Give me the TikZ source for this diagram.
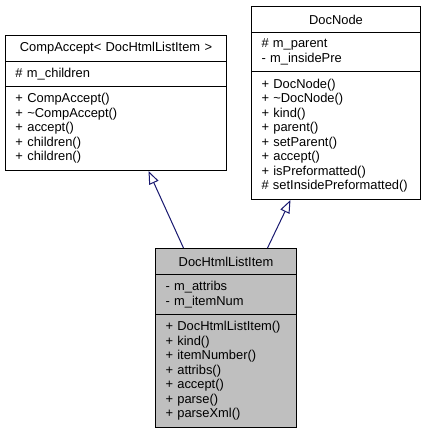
\documentclass[tikz,border=0pt]{standalone}
\usepackage{fontspec}
\setmainfont{Liberation Sans}
\usetikzlibrary{arrows.meta}
\definecolor{edgeblue}{HTML}{191970}
\definecolor{boxgray}{HTML}{BFBFBF}
\newcommand{\umlfont}{\fontsize{12.9}{14.5}\selectfont}
\begin{document}
\begin{tikzpicture}[x=1pt,y=-1pt,
  part/.style={draw=black, line width=1pt, anchor=north west, inner xsep=10pt, inner ysep=0pt, font=\umlfont, align=left},
  inherit/.style={draw=edgeblue, line width=1pt, -{Triangle[open,length=13pt,width=10pt,fill=white]}}]
\useasboundingbox (0,0) rectangle (426,433);
% CompAccept< DocHtmlListItem >
\node[part, text width=201pt, minimum height=26pt, align=center] (comptitle) at (5,35) {CompAccept< DocHtmlListItem >};
\node[part, text width=201pt, minimum height=25pt] (compattr) at (5,61) {\# m\_children};
\node[part, text width=201pt, minimum height=84pt] (compmeth) at (5,86) {+ CompAccept()\\+ \textasciitilde CompAccept()\\+ accept()\\+ children()\\+ children()};
% DocNode
\node[part, text width=149pt, minimum height=26pt, align=center] (nodetitle) at (251,6) {DocNode};
\node[part, text width=149pt, minimum height=39pt] (nodeattr) at (251,32) {\# m\_parent\\- m\_insidePre};
\node[part, text width=149pt, minimum height=128pt] (nodemeth) at (251,71) {+ DocNode()\\+ \textasciitilde DocNode()\\+ kind()\\+ parent()\\+ setParent()\\+ accept()\\+ isPreformatted()\\\# setInsidePreformatted()};
% DocHtmlListItem
\node[part, fill=boxgray, text width=121pt, minimum height=26pt, align=center] (itemtitle) at (155,248) {DocHtmlListItem};
\node[part, fill=boxgray, text width=121pt, minimum height=40pt] (itemattr) at (155,274) {- m\_attribs\\- m\_itemNum};
\node[part, fill=boxgray, text width=121pt, minimum height=113pt] (itemmeth) at (155,314) {+ DocHtmlListItem()\\+ kind()\\+ itemNumber()\\+ attribs()\\+ accept()\\+ parse()\\+ parseXml()};

\draw[inherit] ([xshift=-42.5pt]itemtitle.north) -- ([xshift=32.5pt]compmeth.south);
\draw[inherit] ([xshift=41.5pt]itemtitle.north) -- ([xshift=-45.5pt]nodemeth.south);
\end{tikzpicture}
\end{document}
